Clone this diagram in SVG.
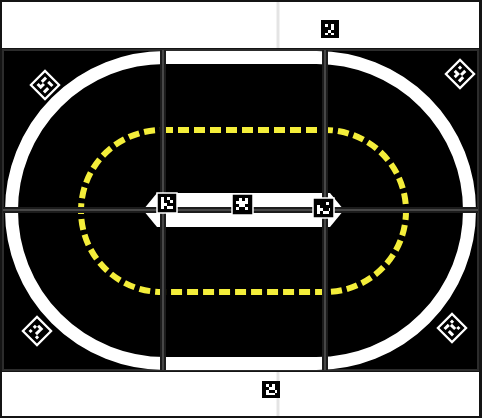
<svg xmlns="http://www.w3.org/2000/svg" width="482" height="418" viewBox="0 0 482 418">
<style>
.strip{fill:#ffffff}
.sep{stroke:#e4e4e4;stroke-width:3}
.track{fill:none;stroke:#ffffff;stroke-width:13}
.lane{fill:none;stroke:#f4ee3a;stroke-width:6;stroke-dasharray:11 5}
.gridA{stroke:#1c1c1c;stroke-width:6}
.gridB{stroke:#474747;stroke-width:2}
.mk{fill:#000000}
.mkb{fill:#000000;stroke:#ffffff;stroke-width:1.5}
.mkd{fill:#000000;stroke:#ffffff;stroke-width:2.2}
.bits{fill:#ffffff}
</style>
<rect x="0" y="0" width="482" height="418" fill="#141414"/>
<g id="top-strip">
<rect class="strip" x="2" y="2" width="477" height="46"/>
<line class="sep" x1="278" y1="2" x2="278" y2="48"/>
</g>
<g id="bottom-strip">
<rect class="strip" x="2" y="372" width="477" height="44"/>
<line class="sep" x1="278" y1="372" x2="278" y2="416"/>
</g>
<g id="field">
<rect x="3" y="50" width="475" height="320" fill="#000000" stroke="#2c2c2c" stroke-width="2"/>
<path class="track" d="M164.5,57.5 H316.5 A153,153 0 0 1 316.5,363.5 H164.5 A153,153 0 0 1 164.5,57.5 Z"/>
<path class="lane" d="M162,130 H325 A81,81 0 0 1 325,292 H162 A81,81 0 0 1 162,130 Z"/>
<polygon points="143,210 157,193 330,193 344,210 330,227 157,227" fill="#ffffff"/>
</g>
<g id="grid-lines">
<line class="gridA" x1="3" y1="210" x2="478" y2="210"/>
<line class="gridA" x1="163" y1="50" x2="163" y2="370"/>
<line class="gridA" x1="325" y1="50" x2="325" y2="370"/>
<line class="gridB" x1="3" y1="210" x2="478" y2="210"/>
<line class="gridB" x1="163" y1="50" x2="163" y2="370"/>
<line class="gridB" x1="325" y1="50" x2="325" y2="370"/>
</g>
<g id="marker-top" transform="translate(321,20)">
<rect class="mk" width="18" height="18"/>
<path class="bits" d="M4,4h3v3h-3z M10,4h3v3h-3z M10,7h3v3h-3z M7,10h3v3h-3z M4,13h3v2h-3z M10,13h3v2h-3z"/>
</g>
<g id="marker-bottom" transform="translate(262,381)">
<rect class="mk" width="18" height="17"/>
<path class="bits" d="M4,3h3v3h-3z M10,3h3v3h-3z M7,6h6v3h-6z M4,9h3v3h-3z M4,12h9v2h-9z M13,9h2v3h-2z"/>
</g>
<g id="marker-center-left" transform="translate(157,193)">
<rect class="mkb" width="20" height="20"/>
<path class="bits" d="M4,4h3v12h-3z M7,10h3v3h-3z M10,4h3v3h-3z M13,7h3v3h-3z M10,13h3v3h-3z M13,13h3v3h-3z"/>
</g>
<g id="marker-center-mid" transform="translate(232,194)">
<rect class="mkb" width="21" height="21"/>
<path class="bits" d="M7,4h3v3h-3z M13,4h3v3h-3z M4,7h12v3h-12z M7,10h6v3h-6z M4,13h3v3h-3z M13,13h3v3h-3z"/>
</g>
<g id="marker-center-right" transform="translate(313,198)">
<rect class="mkb" width="21" height="20"/>
<path class="bits" d="M13,4h3v3h-3z M4,7h3v9h-3z M7,10h3v3h-3z M10,13h6v3h-6z M16,10h1v3h-1z"/>
</g>
<g id="marker-corner-tl" transform="translate(45,85) rotate(45) translate(-10,-10)">
<rect class="mkd" width="20" height="20"/>
<path class="bits" d="M4,4h3v6h-3z M10,4h6v3h-6z M7,10h3v3h-3z M13,10h3v6h-3z M4,13h6v3h-6z"/>
</g>
<g id="marker-corner-tr" transform="translate(460,74) rotate(45) translate(-10,-10)">
<rect class="mkd" width="20" height="20"/>
<path class="bits" d="M4,4h3v3h-3z M10,4h3v6h-3z M4,10h6v3h-6z M13,10h3v6h-3z M7,13h3v3h-3z"/>
</g>
<g id="marker-corner-bl" transform="translate(37,331) rotate(45) translate(-10,-10)">
<rect class="mkd" width="20" height="20"/>
<path class="bits" d="M7,4h6v3h-6z M4,7h3v3h-3z M10,7h3v6h-3z M4,13h3v3h-3z M13,13h3v3h-3z"/>
</g>
<g id="marker-corner-br" transform="translate(452,328) rotate(45) translate(-10,-10)">
<rect class="mkd" width="20" height="20"/>
<path class="bits" d="M4,4h3v3h-3z M13,4h3v3h-3z M7,7h6v3h-6z M4,10h3v6h-3z M10,13h6v3h-6z"/>
</g>
</svg>
